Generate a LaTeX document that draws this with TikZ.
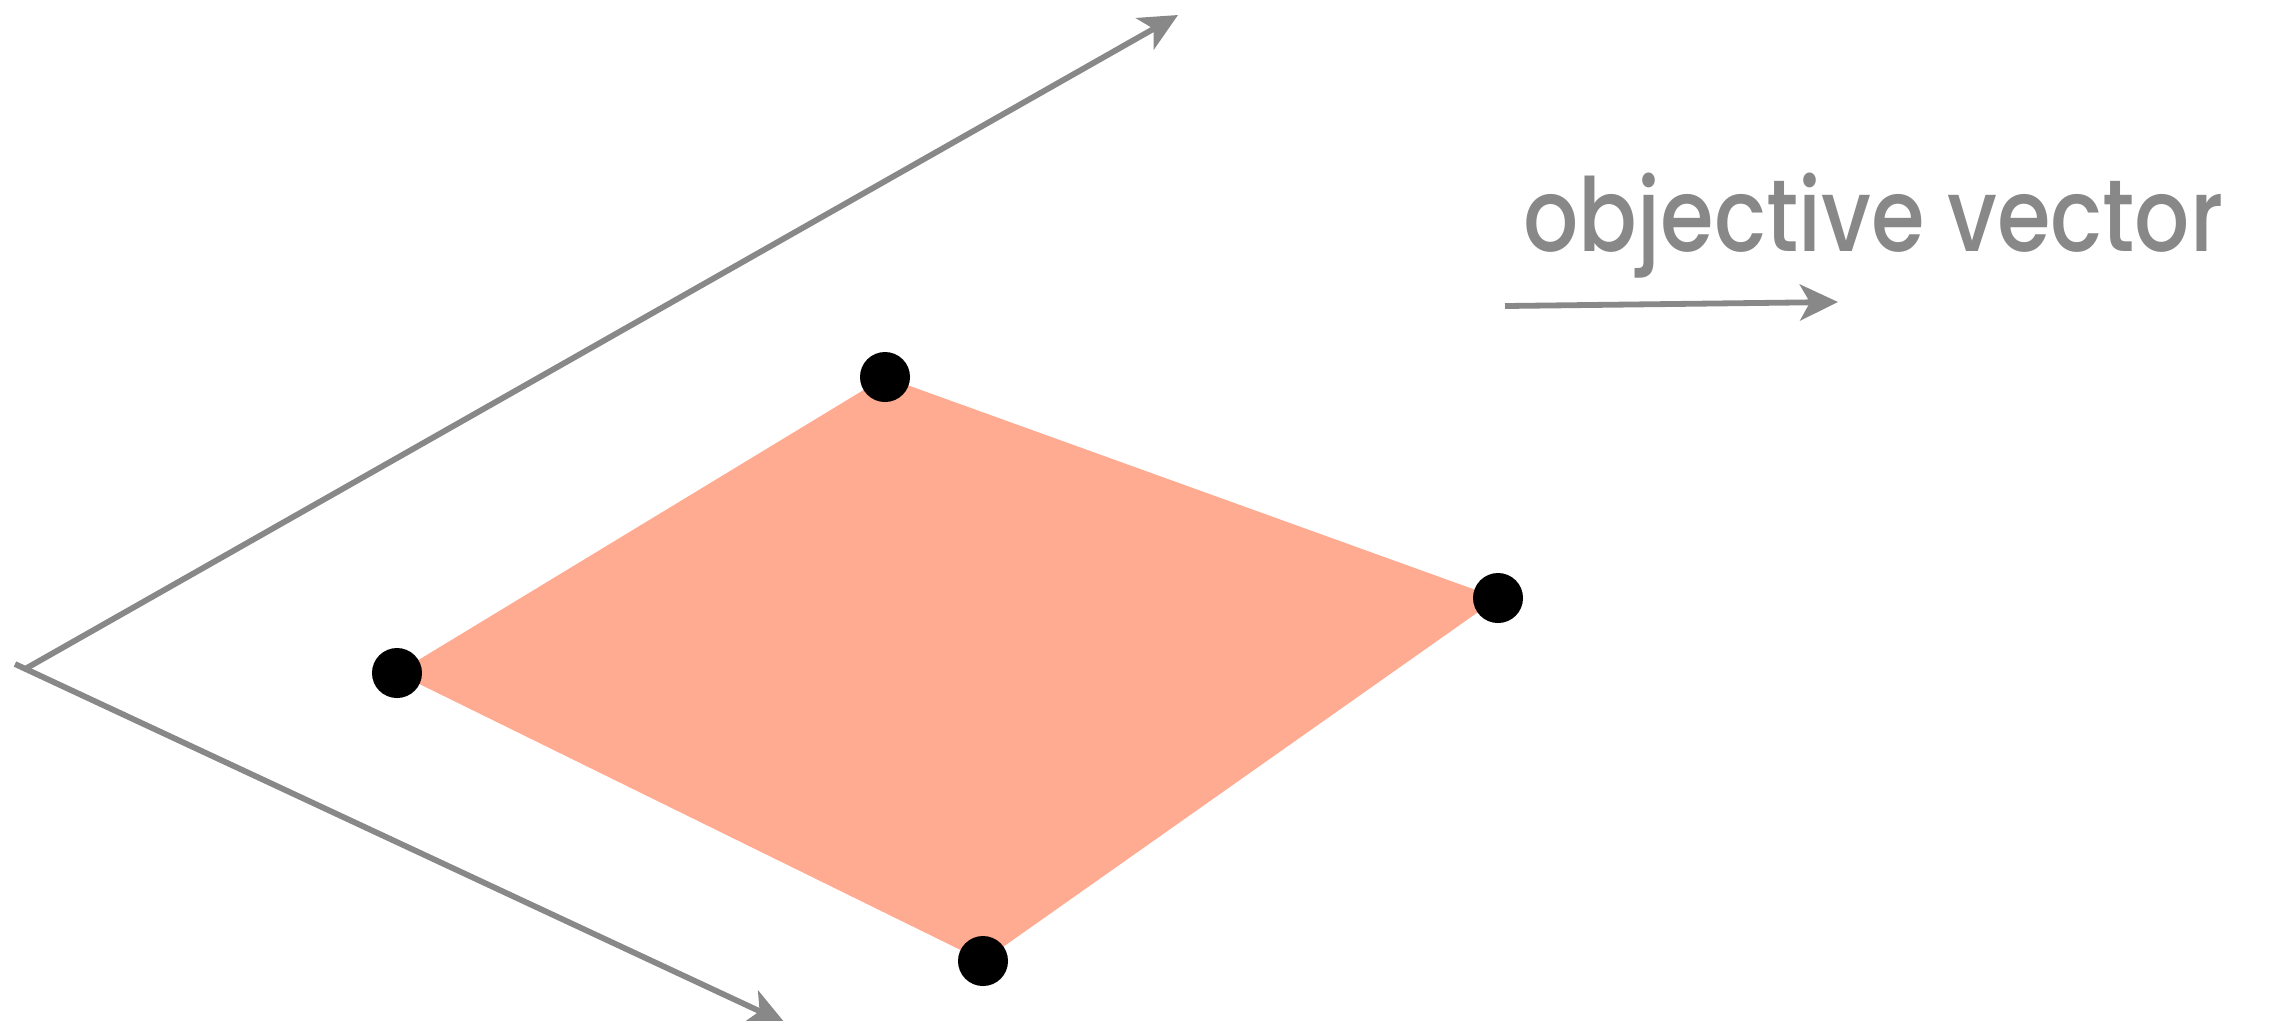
\documentclass[tikz,border=0pt]{standalone}
\usepackage{fontspec}
\newfontfamily\labelfont{Poppins}[UprightFont={* Medium}]
\usetikzlibrary{arrows.meta}
\definecolor{axisgray}{HTML}{888888}
\definecolor{facecol}{HTML}{FFAB91}
\begin{document}
\begin{tikzpicture}[x=0.01cm,y=-0.01cm,
  axis/.style={draw=axisgray,line width=1.65pt,-{Stealth[length=0.38cm,width=0.36cm,inset=0.1cm]}},
  vertex/.style={circle,fill=black,minimum size=0.5cm,inner sep=0pt},
  lbl/.style={anchor=base west,inner sep=0pt,text=axisgray,font=\labelfont\fontsize{29}{35}\selectfont,xscale=0.85}]
\useasboundingbox (0,0) rectangle (2282,1020);
\coordinate (O) at (25,669);
\coordinate (O2) at (15,664);
\coordinate (Ytip) at (1178,15);
\coordinate (Xtip) at (785,1023);
\coordinate (pL) at (397,673);
\coordinate (pT) at (885,377);
\coordinate (pR) at (1498,598);
\coordinate (pB) at (983,961);
\fill[facecol] (pL) -- (pT) -- (pR) -- (pB) -- cycle;
\node[vertex] (vL) at (pL) {};
\node[vertex] (vT) at (pT) {};
\node[vertex] (vR) at (pR) {};
\node[vertex] (vB) at (pB) {};
\draw[axis] (O) -- (Ytip);
\draw[axis] (O2) -- (Xtip);
\node[lbl] (label) at (1523,251) {objective vector};
\coordinate (aS) at (1505,306);
\coordinate (aE) at (1838,302);
\draw[axis] (aS) -- (aE);
\end{tikzpicture}
\end{document}
